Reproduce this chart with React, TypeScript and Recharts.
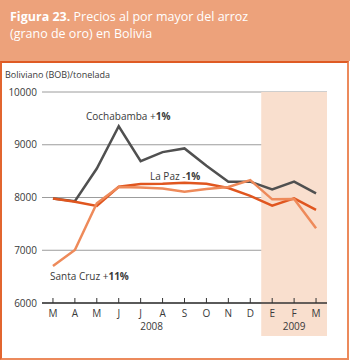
import React from 'react';
import { LineChart, Line, XAxis, YAxis, CartesianGrid, ReferenceArea } from 'recharts';

const periods = ['mar-08', 'abr-08', 'may-08', 'jun-08', 'jul-08', 'ago-08', 'sep-08', 'oct-08', 'nov-08', 'dic-08', 'ene-09', 'feb-09', 'mar-09'];
const monthLabels = ['M', 'A', 'M', 'J', 'J', 'A', 'S', 'O', 'N', 'D', 'E', 'F', 'M'];
const cochabamba = [7980, 7930, 8550, 9350, 8690, 8860, 8930, 8600, 8300, 8300, 8155, 8300, 8080];
const laPaz = [7980, 7920, 7840, 8205, 8255, 8260, 8280, 8260, 8180, 8030, 7845, 7985, 7765];
const santaCruz = [6700, 7005, 7890, 8200, 8190, 8170, 8110, 8160, 8200, 8330, 7965, 7970, 7415];
const yTicks = [6000, 7000, 8000, 9000, 10000];
const years = [
  { label: '2008', first: 0, last: 9 },
  { label: '2009', first: 10, last: 12 },
];

const W = 350;
const H = 361;
const MARGIN = { top: 92, right: 23, bottom: 28, left: 2 };
const Y_W = 40;
const STEP = (W - MARGIN.left - MARGIN.right - Y_W) / periods.length;
const FONT = '"Open Sans", "DejaVu Sans", sans-serif';
const TEXT = '#3a3a3a';

const data = periods.map((p, i) => ({
  period: p,
  cochabamba: cochabamba[i],
  laPaz: laPaz[i],
  santaCruz: santaCruz[i],
}));

const MonthTick = (props: any) => {
  const { x, y, payload } = props;
  const i = periods.indexOf(payload.value);
  const year = years.find((yr) => yr.first === i);
  return (
    <g>
      <line x1={x} x2={x} y1={y - 5} y2={y} stroke="#333" strokeWidth={1} />
      <text x={x} y={y + 14} textAnchor="middle" fontSize={10} fill={TEXT} fontFamily={FONT}>
        {monthLabels[i]}
      </text>
      {year && (
        <text
          x={x + ((year.last - year.first) / 2) * STEP}
          y={y + 27}
          textAnchor="middle"
          fontSize={10}
          fill={TEXT}
          fontFamily={FONT}
        >
          {year.label}
        </text>
      )}
    </g>
  );
};

// shading covers the 2009 months and runs down under the year label
const Shade = (props: any) => {
  const { x, y, width, height } = props;
  const half = width / 4;
  return <rect x={x - half} y={y} width={width + 2 * half} height={height + 33} fill="#F9DFCE" />;
};

const labelStyle: React.CSSProperties = {
  position: 'absolute',
  fontFamily: FONT,
  fontSize: 10,
  lineHeight: '14px',
  color: TEXT,
  whiteSpace: 'nowrap',
};

export default function App() {
  return (
    <div style={{ position: 'absolute', left: 0, top: 0, width: W, height: H, background: '#fff' }}>
      <div
        style={{
          position: 'absolute',
          left: 0,
          top: 0,
          width: W,
          height: 61,
          background: '#EDA27B',
          color: '#fff',
          fontFamily: FONT,
          fontSize: 12.5,
          lineHeight: '17px',
          padding: '8px 0 0 10px',
          boxSizing: 'border-box',
        }}
      >
        <b>Figura 23.</b> Precios al por mayor del arroz
        <br />
        (grano de oro) en Bolivia
      </div>
      <div
        style={{
          position: 'absolute',
          left: 0,
          top: 61,
          width: 349,
          height: 299,
          boxSizing: 'border-box',
          borderTop: '2px solid #DF5B24',
          borderLeft: '2px solid #E2652F',
          borderRight: '2px solid #EC8A5C',
          borderBottom: '2px solid #EC8A5C',
        }}
      />
      <div style={{ ...labelStyle, left: 5, top: 68, fontSize: 9 }}>Boliviano (BOB)/tonelada</div>
      <div style={{ position: 'absolute', left: 0, top: 0 }}>
        <LineChart width={W} height={H} data={data} margin={MARGIN}>
          <ReferenceArea x1="ene-09" x2="mar-09" shape={<Shade />} ifOverflow="visible" />
          <CartesianGrid vertical={false} stroke="#9c9c9c" />
          <XAxis
            dataKey="period"
            padding={{ left: STEP / 2, right: STEP / 2 }}
            axisLine={{ stroke: '#333', strokeWidth: 1.5 }}
            tickLine={false}
            tickSize={0}
            tickMargin={0}
            height={30}
            interval={0}
            tick={<MonthTick />}
          />
          <YAxis
            domain={[6000, 10000]}
            ticks={yTicks}
            width={Y_W}
            axisLine={false}
            tickLine={false}
            tickSize={0}
            tickMargin={5}
            tick={{ fontSize: 10, fill: TEXT, fontFamily: FONT }}
          />
          <Line dataKey="cochabamba" stroke="#505050" strokeWidth={2.5} dot={false} isAnimationActive={false} />
          <Line dataKey="laPaz" stroke="#E0561F" strokeWidth={2.5} dot={false} isAnimationActive={false} />
          <Line dataKey="santaCruz" stroke="#EE8A5A" strokeWidth={2.5} dot={false} isAnimationActive={false} />
        </LineChart>
      </div>
      <div style={{ ...labelStyle, left: 86, top: 109 }}>
        Cochabamba +<b>1%</b>
      </div>
      <div style={{ ...labelStyle, left: 150, top: 169 }}>
        La Paz -<b>1%</b>
      </div>
      <div style={{ ...labelStyle, left: 50, top: 269 }}>
        Santa Cruz +<b>11%</b>
      </div>
    </div>
  );
}
